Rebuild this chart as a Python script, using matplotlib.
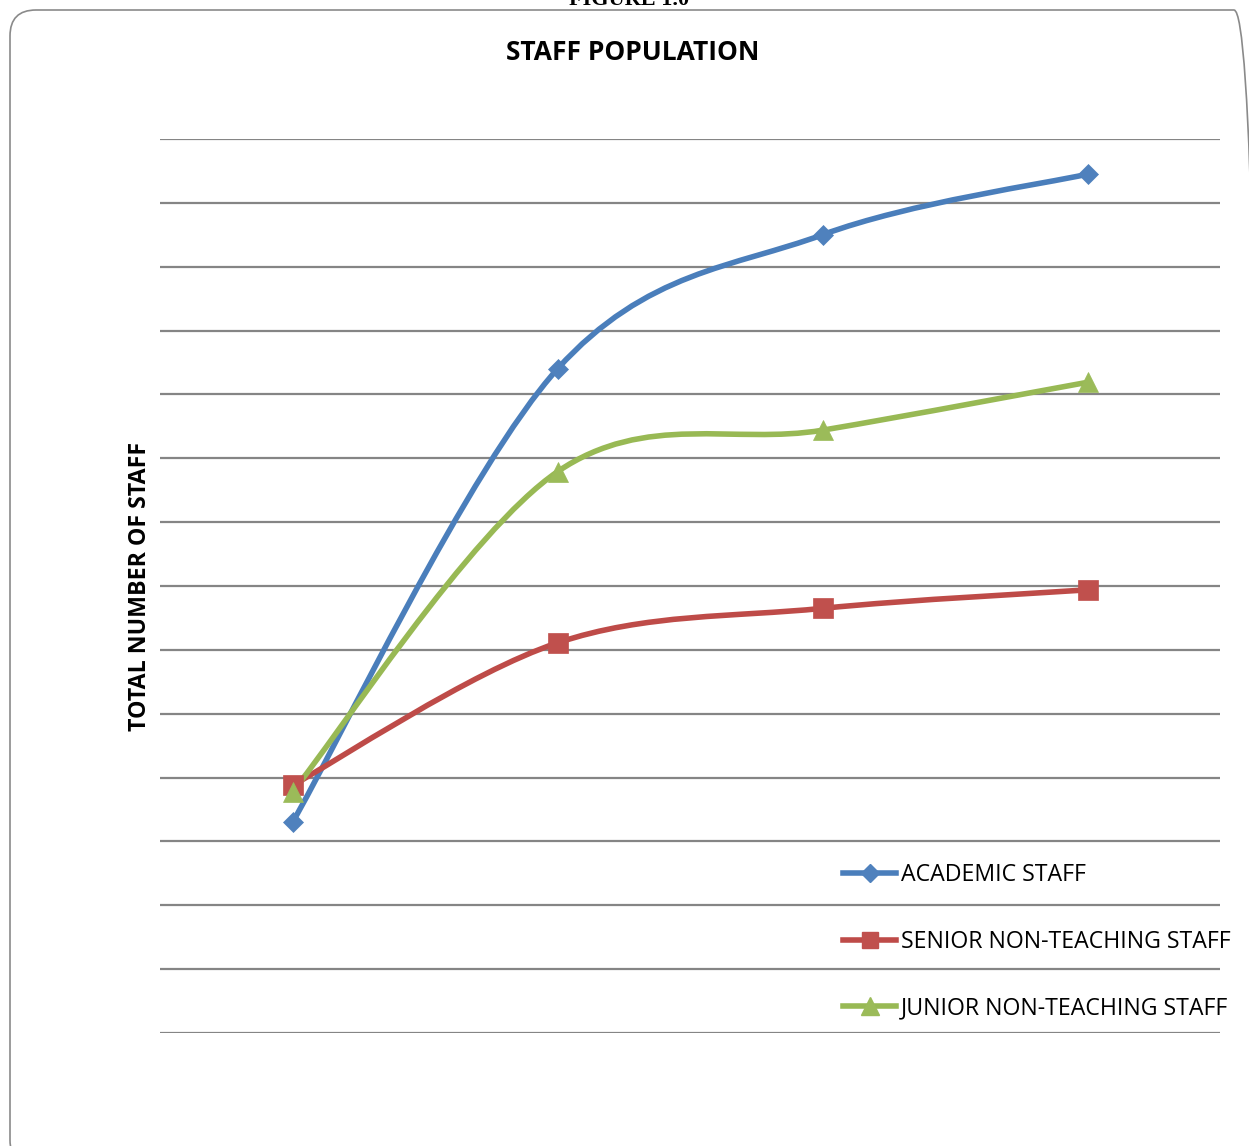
import matplotlib.pyplot as plt
import numpy as np
from matplotlib.path import Path
from matplotlib.patches import PathPatch, FancyBboxPatch
from matplotlib.lines import Line2D
from matplotlib.transforms import IdentityTransform

# staff totals per period (4 points per series)
academic = [330, 1040, 1250, 1345]
senior = [388, 611, 665, 694]
junior = [378, 879, 944, 1019]

series_names = ["ACADEMIC STAFF", "SENIOR NON-TEACHING STAFF", "JUNIOR NON-TEACHING STAFF"]
series_values = [academic, senior, junior]
line_colors = ["#4A7EBB", "#BE4B48", "#98B954"]
marker_colors = ["#4F81BD", "#C0504D", "#9BBB59"]
markers = ["D", "s", "^"]
marker_sizes = [10.5, 14, 14.5]


def smooth_path(x, y):
    # Catmull-Rom style cubic bezier through the points (like office "smoothed line")
    pts = np.column_stack([x, y]).astype(float)
    n = len(pts)
    verts = [pts[0]]
    codes = [Path.MOVETO]
    for i in range(n - 1):
        p0 = pts[i - 1] if i > 0 else pts[i]
        p1 = pts[i]
        p2 = pts[i + 1]
        p3 = pts[i + 2] if i + 2 < n else pts[i + 1]
        c1 = p1 + (p2 - p0) / 6.0
        c2 = p2 - (p3 - p1) / 6.0
        verts += [c1, c2, p2]
        codes += [Path.CURVE4] * 3
    return Path(verts, codes)


fig = plt.figure(figsize=(12.49, 11.46), dpi=100)
ax = fig.add_axes([160 / 1249, 113 / 1146, 1060 / 1249, 894 / 1146])

# rounded chart border, running off the right and bottom edges
frame = FancyBboxPatch((10, -20), 1250, 1156, boxstyle="round,pad=0,rounding_size=26",
                       transform=IdentityTransform(), facecolor="none",
                       edgecolor="#8a8a8a", linewidth=1.2)
fig.patches.append(frame)

x = np.arange(len(academic))
for vals, lc, mc, mk, ms in zip(series_values, line_colors, marker_colors, markers, marker_sizes):
    ax.add_patch(PathPatch(smooth_path(x, vals), facecolor="none", edgecolor=lc,
                           linewidth=4.0, capstyle="round", joinstyle="round"))
    ax.plot(x, vals, linestyle="none", marker=mk, markersize=ms,
            markerfacecolor=mc, markeredgecolor=mc, markeredgewidth=0.5)

ax.set_xlim(-0.5, 3.5)
ax.set_ylim(0, 1400)
ax.set_yticks(np.arange(0, 1401, 100))
ax.set_xticks([])
ax.tick_params(axis="y", length=0, labelleft=False)
ax.yaxis.grid(True, color="#858585", linewidth=1.6)
ax.set_axisbelow(True)
for s in ax.spines.values():
    s.set_visible(False)

ax.set_ylabel("TOTAL NUMBER OF STAFF", fontsize=16.7, fontweight="bold",
              family="Open Sans")
ax.yaxis.set_label_coords(-0.0075, 0.5)

fig.text(633 / 1249, 1 - 53 / 1146, "STAFF POPULATION", ha="center", va="center",
         fontsize=19, fontweight="bold", family="Open Sans")
fig.text(629 / 1249, 1.0, "FIGURE 1.0", ha="center", va="center",
         fontsize=16, fontweight="bold", family="Liberation Serif")

handles = [Line2D([], [], color=lc, linewidth=4.0, marker=mk, markersize=ms * 0.85,
                  markerfacecolor=mc, markeredgecolor=mc)
           for lc, mc, mk, ms in zip(line_colors, marker_colors, markers, marker_sizes)]
ax.legend(handles, series_names, loc="upper left", frameon=False,
          bbox_to_anchor=(843 / 1249, 1 - 863 / 1146), bbox_transform=fig.transFigure,
          prop={"family": "Open Sans", "size": 16.7}, handlelength=2.3,
          handletextpad=0.18, labelspacing=1.84, borderpad=0, borderaxespad=0)

fig.savefig("out.png", dpi=100)
